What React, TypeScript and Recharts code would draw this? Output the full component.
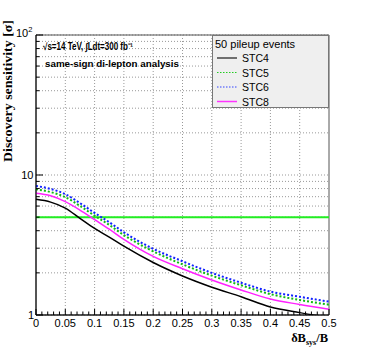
import { LineChart, Line, XAxis, YAxis, CartesianGrid, ReferenceLine, ReferenceArea, Legend } from 'recharts';

// relative systematic uncertainty on the background, dB_sys / B
const sysUncertainty = [0, 0.025, 0.05, 0.075, 0.1, 0.125, 0.15, 0.2, 0.25, 0.3, 0.35, 0.4, 0.45, 0.5];

// discovery sensitivity [sigma] per STC configuration (50 pileup events)
const stc4 = [6.7, 6.4, 5.8, 4.9, 4.15, 3.6, 3.1, 2.37, 1.9, 1.58, 1.35, 1.14, 1.04, 0.96];
const stc5 = [7.9, 7.55, 6.95, 6.02, 5.12, 4.4, 3.72, 2.85, 2.3, 1.91, 1.63, 1.41, 1.28, 1.185];
const stc6 = [8.35, 7.95, 7.3, 6.3, 5.36, 4.6, 3.9, 2.97, 2.42, 2.0, 1.7, 1.47, 1.35, 1.245];
const stc8 = [7.4, 7.1, 6.45, 5.62, 4.8, 4.1, 3.47, 2.62, 2.14, 1.78, 1.51, 1.3, 1.19, 1.1];

const discoveryThreshold = 5;

const xMajorTicks = [0, 0.05, 0.1, 0.15, 0.2, 0.25, 0.3, 0.35, 0.4, 0.45, 0.5];
const xMajorLabels = ['0', '0.05', '0.1', '0.15', '0.2', '0.25', '0.3', '0.35', '0.4', '0.45', '0.5'];
const xMinorTicks = Array.from({ length: 51 }, (_, i) => i / 100);
const yTicks = [1, 2, 3, 4, 5, 6, 7, 8, 9, 10, 20, 30, 40, 50, 60, 70, 80, 90, 100];
const yMajorTicks = [1, 10, 100];

const series = [
  { key: 'stc4', name: 'STC4', color: '#000000', dash: undefined, width: 1.5, legendColor: '#444444' },
  { key: 'stc5', name: 'STC5', color: '#11bb11', dash: '2 2', width: 2, legendColor: '#22cc22' },
  { key: 'stc6', name: 'STC6', color: '#1122ff', dash: '2 2', width: 2, legendColor: '#3344ff' },
  { key: 'stc8', name: 'STC8', color: '#ff22ff', dash: undefined, width: 1.5, legendColor: '#ff33ff' },
];

const data = sysUncertainty.map((x, i) => ({
  x,
  stc4: stc4[i],
  stc5: stc5[i],
  stc6: stc6[i],
  stc8: stc8[i],
}));

const sans = '"Liberation Sans", Arial, sans-serif';
const serif = '"Liberation Serif", "Times New Roman", serif';

function XTick(props: any) {
  const { x, y, payload } = props;
  const v = payload.value;
  const idx = xMajorTicks.findIndex((m) => Math.abs(m - v) < 1e-6);
  const major = idx >= 0;
  return (
    <g>
      <line x1={x} x2={x} y1={y} y2={y - (major ? 6 : 3.5)} stroke="#000" strokeWidth={1} />
      {major && (
        <text x={x} y={y + 12} textAnchor="middle" fontFamily={sans} fontSize={11} fill="#000">
          {xMajorLabels[idx]}
        </text>
      )}
    </g>
  );
}

function YTick(props: any) {
  const { x, y, payload } = props;
  const v = payload.value;
  const major = yMajorTicks.includes(v);
  return (
    <g>
      <line x1={x} x2={x + (major ? 7 : 3.5)} y1={y} y2={y} stroke="#000" strokeWidth={1} />
      {v === 1 && (
        <text x={x - 2} y={y + 4} textAnchor="end" fontFamily={sans} fontSize={11} fill="#000">1</text>
      )}
      {v === 10 && (
        <text x={x - 2.5} y={y + 4} textAnchor="end" fontFamily={sans} fontSize={11} fill="#000">10</text>
      )}
      {v === 100 && (
        <text x={x - 20} y={y + 2} fontFamily={sans} fontSize={11} fill="#000">
          10<tspan fontSize={7.5} dy={-5}>2</tspan>
        </text>
      )}
    </g>
  );
}

function LegendBox() {
  return (
    <div
      style={{
        width: 117,
        height: 73,
        boxSizing: 'border-box',
        background: '#efefef',
        border: '1px solid #777',
        fontFamily: sans,
        color: '#000',
      }}
    >
      <svg width={115} height={71}>
        <text x={2} y={12} fontSize={11} fontFamily={sans}>50 pileup events</text>
        {series.map((s, i) => {
          const cy = 22 + i * 14.5;
          return (
            <g key={s.key}>
              <line
                x1={4}
                x2={24}
                y1={cy}
                y2={cy}
                stroke={s.legendColor}
                strokeWidth={s.dash ? 1 : 1.5}
                strokeDasharray={s.dash ? '1.5 1.5' : undefined}
              />
              <text x={29} y={cy + 4} fontSize={10.5} fontFamily={sans}>{s.name}</text>
            </g>
          );
        })}
      </svg>
    </div>
  );
}

export default function App() {
  return (
    <div style={{ position: 'absolute', left: 0, top: 0, width: 366, height: 351, background: '#fff' }}>
      <LineChart width={366} height={351} data={data} margin={{ top: 35, right: 37, bottom: 0, left: 0 }}>
        <CartesianGrid vertical={false} stroke="#999" strokeDasharray="1 2" />
        {xMajorTicks.slice(1, -1).map((t) => (
          <ReferenceLine key={t} x={t} stroke="#999" strokeDasharray="1 2" />
        ))}
        <XAxis
          dataKey="x"
          type="number"
          domain={[0, 0.5]}
          ticks={xMinorTicks}
          interval={0}
          height={36}
          tickSize={0}
          tickMargin={0}
          tickLine={false}
          axisLine={{ stroke: '#000', strokeWidth: 1 }}
          tick={(p: any) => <XTick {...p} />}
        />
        <YAxis
          type="number"
          scale="log"
          domain={[1, 100]}
          allowDataOverflow
          ticks={yTicks}
          interval={0}
          width={36}
          tickSize={0}
          tickMargin={0}
          tickLine={false}
          axisLine={{ stroke: '#000', strokeWidth: 1 }}
          tick={(p: any) => <YTick {...p} />}
        />
        <ReferenceArea x1={0} x2={0.5} y1={1} y2={100} fill="none" stroke="#555" strokeWidth={1} />
        <ReferenceLine y={discoveryThreshold} stroke="#22ee22" strokeWidth={2} />
        {series.map((s) => (
          <Line
            key={s.key}
            type="monotone"
            dataKey={s.key}
            name={s.name}
            stroke={s.color}
            strokeWidth={s.width}
            strokeDasharray={s.dash}
            dot={false}
            activeDot={false}
            isAnimationActive={false}
          />
        ))}
        <Legend
          layout="vertical"
          align="center"
          verticalAlign="middle"
          width={117}
          height={73}
          wrapperStyle={{ left: 212, top: 35, width: 117, height: 73 }}
          content={() => <LegendBox />}
        />
      </LineChart>
      <svg
        width={366}
        height={351}
        style={{ position: 'absolute', left: 0, top: 0, pointerEvents: 'none' }}
      >
        <text x={43} y={50} fontFamily={sans} fontWeight="bold" fontSize={10} textLength={90} lengthAdjust="spacingAndGlyphs">
          √s=14 TeV, ∫Ldt=300 fb⁻¹
        </text>
        <text x={45} y={67} fontFamily={sans} fontWeight="bold" fontSize={9.5} textLength={134} lengthAdjust="spacingAndGlyphs">
          same-sign di-lepton analysis
        </text>
        <text
          transform="translate(12, 91) rotate(-90)"
          textAnchor="middle"
          fontFamily={serif}
          fontWeight="bold"
          fontSize={12}
          textLength={142}
          lengthAdjust="spacingAndGlyphs"
        >
          Discovery sensitivity [σ]
        </text>
        <text x={328} y={342} textAnchor="end" fontFamily={serif} fontWeight="bold" fontSize={12.5}>
          δB<tspan fontSize={8} dy={3}>sys</tspan>
          <tspan dy={-3}>/B</tspan>
        </text>
      </svg>
    </div>
  );
}
